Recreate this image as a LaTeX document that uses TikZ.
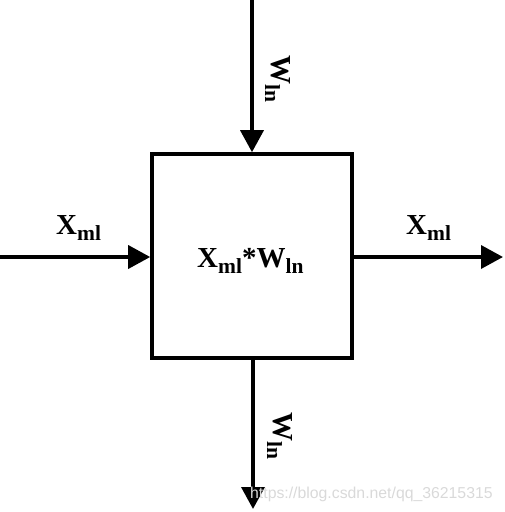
\documentclass[tikz,border=0pt]{standalone}
\usepackage{fontspec}
\setmainfont{Liberation Serif}
\newfontfamily\wmfont{Liberation Sans}
\usetikzlibrary{arrows.meta}
\newcommand{\sublab}[2]{#1\raisebox{-6pt}{\fontsize{21.5}{21.5}\selectfont #2}}
\begin{document}
\begin{tikzpicture}[x=1pt,y=-1pt,
  conn/.style={line width=3.6pt,-{Triangle[length=22pt,width=23pt]}},
  lab/.style={inner sep=0pt,font=\fontsize{29}{29}\selectfont\bfseries}]
\useasboundingbox (0,0) rectangle (504,512);
\node[draw,line width=3.6pt,minimum width=200pt,minimum height=204pt,inner sep=0pt] (box) at (252,256) {};
\coordinate (tin) at (252,0);
\coordinate (lin) at (0,257);
\coordinate (rout) at (503,257);
\coordinate (bout) at (253,509);
\draw[conn] (tin) -- (tin |- box.north);
\draw[conn] (lin) -- (lin -| box.west);
\draw[conn] (rout -| box.east) -- (rout);
\draw[conn] (bout |- box.south) -- (bout);
\node[lab,anchor=base west] (xl) at (56,234) {\sublab{X}{ml}};
\node[lab,anchor=base west] (xr) at (406,234) {\sublab{X}{ml}};
\node[lab,anchor=base west] (c) at (197,267) {\sublab{X}{ml}*\sublab{W}{ln}};
\node[lab,anchor=base west,rotate=-90] (wt) at (271,55) {\sublab{W}{ln}};
\node[lab,anchor=base west,rotate=-90] (wb) at (273,412) {\sublab{W}{ln}};
\node[inner sep=0pt,anchor=base west,text=gray!30,font=\wmfont\fontsize{15.8}{15.8}\selectfont] (wm) at (250,498) {https://blog.csdn.net/qq\_36215315};
\end{tikzpicture}
\end{document}
